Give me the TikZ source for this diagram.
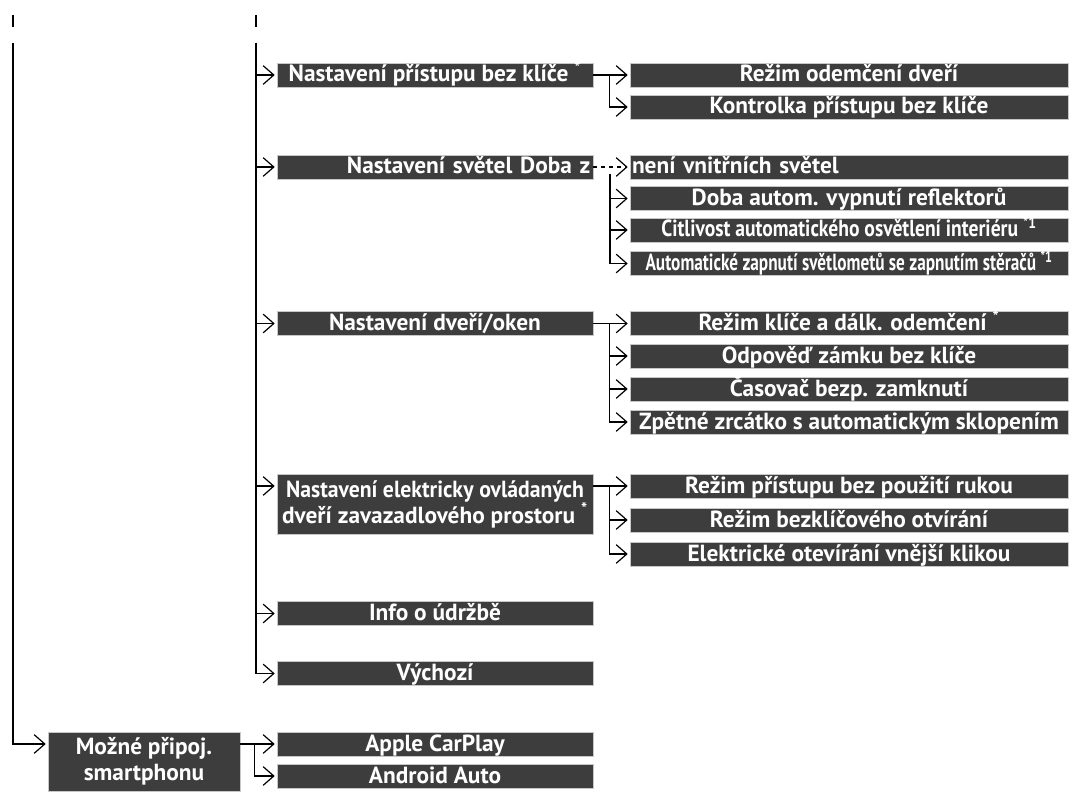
\documentclass[tikz,border=0pt]{standalone}
\usepackage{graphicx}
\usepackage{fontspec}
\setmainfont{PT Sans}
\usetikzlibrary{arrows.meta,positioning,calc}

\begin{document}
\begin{tikzpicture}[x=0.75pt,y=-0.75pt,->,>={Straight Barb[length=8pt,width=14pt]},
   line width=0.9pt,shorten >=1.5pt,
   menu/.style={fill=black!76,draw=black!22,line width=0.4pt,text=white,
     font=\fontsize{17.5}{19.5}\selectfont\bfseries,inner sep=0pt,minimum height=18pt,
     text height=13.5pt,text depth=3pt},
   dvoj/.style={text height=,text depth=,align=center},
   lvl2/.style={menu,minimum width=237pt},
   lvl3/.style={menu,minimum width=328.5pt}]
  \useasboundingbox (0,0) rectangle (1073,798);
  \node[lvl2] (pristup) at (435,75) {Nastavení přístupu bez klíče \textsuperscript{*}};
  \node[lvl2,text width=233pt,align=right,inner xsep=2pt] (svetla) at (435,167) {Nastavení světel Doba z};
  \node[lvl2] (dvere) at (435,323.5) {Nastavení dveří/oken};
  \node[lvl2,dvoj,minimum height=45pt] (elektr) at (435,504)
    {\scalebox{0.93}[1]{Nastavení elektricky ovládaných}\\dveří zavazadlového prostoru \textsuperscript{*}};
  \node[lvl2] (info) at (435,613.5) {Info o údržbě};
  \node[lvl2] (vychozi) at (435,673.5) {Výchozí};
  \node[lvl2] (apple) at (435,744) {Apple CarPlay};
  \node[lvl2] (android) at (435,776) {Android Auto};
  \node[menu,dvoj,minimum width=144pt,minimum height=44pt] (mozne) at (144,761.5)
    {Možné připoj.\\smartphonu};

  \node[lvl3] (odem) at (849,75) {Režim odemčení dveří};
  \node[lvl3] (kontr) at (849,107) {Kontrolka přístupu bez klíče};
  \node[lvl3,text width=325.5pt,align=left,inner xsep=1.5pt] (zbytek) at (849,167) {není vnitřních světel};
  \node[lvl3] (doba) at (849,198.5) {Doba autom. vypnutí reflektorů};
  \node[lvl3] (citl) at (849,230)
    {\scalebox{0.84}[1]{Citlivost automatického osvětlení interiéru \textsuperscript{*1}}};
  \node[lvl3] (auto) at (849,263.5)
    {\scalebox{0.74}[1]{Automatické zapnutí světlometů se zapnutím stěračů \textsuperscript{*1}}};
  \node[lvl3] (rklice) at (849,323.5) {Režim klíče a dálk. odemčení \textsuperscript{*}};
  \node[lvl3] (odpov) at (849,356) {Odpověď zámku bez klíče};
  \node[lvl3] (casov) at (849,389) {Časovač bezp. zamknutí};
  \node[lvl3] (zpet) at (849,422) {Zpětné zrcátko s automatickým sklopením};
  \node[lvl3] (rpris) at (849,486) {Režim přístupu bez použití rukou};
  \node[lvl3] (rbez) at (849,520) {Režim bezklíčového otvírání};
  \node[lvl3] (elotv) at (849,554) {Elektrické otevírání vnější klikou};

  \coordinate (levytop) at (13,43);
  \coordinate (stredtop) at (256,43);
  \coordinate (b2) at (610,174);
  \draw[-] (13,15) -- (13,29);
  \draw[-] (256,15) -- (256,29);

  \foreach \n in {pristup,svetla,dvere,info,vychozi}
    \draw (stredtop) |- (\n.west);
  \draw (stredtop) |- (elektr.west |- rpris.west);
  \draw (levytop) |- (mozne.west |- apple.west);

  \draw (pristup.east) -- (odem.west);
  \draw ($(pristup.east)!.45!(odem.west)$) |- (kontr.west);
  \draw[dashed] (svetla.east) -- (zbytek.west);
  \foreach \n in {doba,citl,auto}
    \draw (b2) |- (\n.west);
  \draw (dvere.east) -- (rklice.west);
  \foreach \n in {odpov,casov,zpet}
    \draw ($(dvere.east)!.45!(rklice.west)$) |- (\n.west);
  \draw (elektr.east |- rpris.west) -- (rpris.west);
  \foreach \n in {rbez,elotv}
    \draw ($(elektr.east |- rpris.west)!.45!(rpris.west)$) |- (\n.west);
  \draw (mozne.east |- apple.west) -- (apple.west);
  \draw ($(mozne.east |- apple.west)!.4!(apple.west)$) |- (android.west);
\end{tikzpicture}
\end{document}
